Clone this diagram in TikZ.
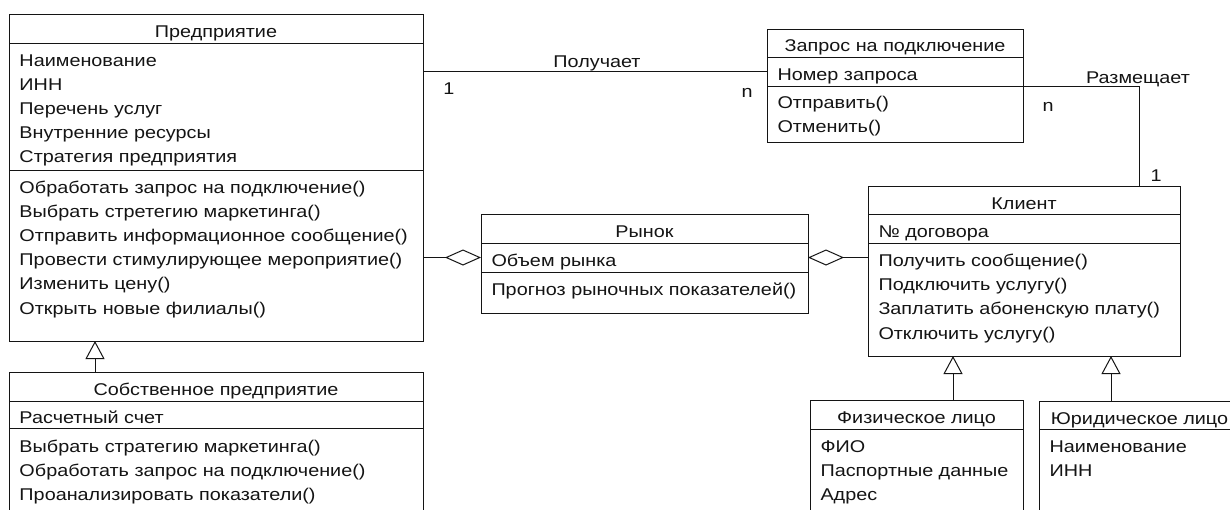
\documentclass[tikz,border=0pt]{standalone}
\usepackage{fontspec}
\setmainfont{Liberation Sans}[FakeStretch=1.165]
\usetikzlibrary{arrows.meta}
\definecolor{ink}{RGB}{20,20,20}
\tikzset{
  comp/.style={draw=ink, line width=1pt, anchor=north west, inner sep=0pt, outer sep=0pt, rectangle},
  txt/.style={anchor=base west, inner sep=0pt, outer sep=0pt, text=ink, font=\fontsize{17}{20}\selectfont},
  ttl/.style={anchor=base, inner sep=0pt, outer sep=0pt, text=ink, font=\fontsize{17}{20}\selectfont},
  conn/.style={draw=ink, line width=1pt},
  agg/.style={conn, {Diamond[open, length=36pt, width=16pt, line width=1pt]}-},
  gen/.style={conn, -{Triangle[open, length=18pt, width=19pt, line width=1pt]}},
}
\begin{document}
\begin{tikzpicture}[x=1pt,y=-1pt]
\useasboundingbox (0,0) rectangle (1230,509);
\clip (0,0) rectangle (1230,509);
\fill[white] (0,0) rectangle (1230,509);

% Предприятие
\node[comp, minimum width=414pt, minimum height=29pt] (predT) at (9,14) {};
\node[comp, minimum width=414pt, minimum height=127pt] (predA) at (9,43) {};
\node[comp, minimum width=414pt, minimum height=171pt] (predM) at (9,170) {};
\node[ttl] (p0) at (216,37) {Предприятие};
\node[txt] (p1) at (19.5,66) {Наименование};
\node[txt] (p2) at (19.5,90.2) {ИНН};
\node[txt] (p3) at (19.5,114.4) {Перечень услуг};
\node[txt] (p4) at (19.5,138.6) {Внутренние ресурсы};
\node[txt] (p5) at (19.5,162.8) {Стратегия предприятия};
\node[txt] (p6) at (19.5,193) {Обработать запрос на подключение()};
\node[txt] (p7) at (19.5,217.2) {Выбрать стретегию маркетинга()};
\node[txt] (p8) at (19.5,241.4) {Отправить информационное сообщение()};
\node[txt] (p9) at (19.5,265.6) {Провести стимулирующее мероприятие()};
\node[txt] (p10) at (19.5,289.8) {Изменить цену()};
\node[txt] (p11) at (19.5,314) {Открыть новые филиалы()};

% Собственное предприятие
\node[comp, minimum width=414pt, minimum height=29pt] (sobT) at (9,372) {};
\node[comp, minimum width=414pt, minimum height=27pt] (sobA) at (9,401) {};
\node[comp, minimum width=414pt, minimum height=100pt] (sobM) at (9,428) {};
\node[ttl] (s0) at (216,395) {Собственное предприятие};
\node[txt] (s1) at (19.5,423) {Расчетный счет};
\node[txt] (s2) at (19.5,452.5) {Выбрать стратегию маркетинга()};
\node[txt] (s3) at (19.5,476.5) {Обработать запрос на подключение()};
\node[txt] (s4) at (19.5,500.5) {Проанализировать показатели()};

% Запрос на подключение
\node[comp, minimum width=256pt, minimum height=28pt] (zapT) at (767,29) {};
\node[comp, minimum width=256pt, minimum height=29pt] (zapA) at (767,57) {};
\node[comp, minimum width=256pt, minimum height=56pt] (zapM) at (767,86) {};
\node[ttl] (z0) at (895,51) {Запрос на подключение};
\node[txt] (z1) at (777.5,80) {Номер запроса};
\node[txt] (z2) at (777.5,108.5) {Отправить()};
\node[txt] (z3) at (777.5,132) {Отменить()};

% Рынок
\node[comp, minimum width=327pt, minimum height=29pt] (rynT) at (481,214) {};
\node[comp, minimum width=327pt, minimum height=29pt] (rynA) at (481,243) {};
\node[comp, minimum width=327pt, minimum height=41pt] (rynM) at (481,272) {};
\node[ttl] (r0) at (644.5,237) {Рынок};
\node[txt] (r1) at (491.5,266) {Объем рынка};
\node[txt] (r2) at (491.5,295) {Прогноз рыночных показателей()};

% Клиент
\node[comp, minimum width=312pt, minimum height=28pt] (klT) at (868,186) {};
\node[comp, minimum width=312pt, minimum height=29pt] (klA) at (868,214) {};
\node[comp, minimum width=312pt, minimum height=113pt] (klM) at (868,243) {};
\node[ttl] (k0) at (1024,209) {Клиент};
\node[txt] (k1) at (878.5,237) {№ договора};
\node[txt] (k2) at (878.5,266.5) {Получить сообщение()};
\node[txt] (k3) at (878.5,290.7) {Подключить услугу()};
\node[txt] (k4) at (878.5,314.9) {Заплатить абоненскую плату()};
\node[txt] (k5) at (878.5,339.1) {Отключить услугу()};

% Физическое лицо
\node[comp, minimum width=213pt, minimum height=29pt] (fizT) at (810,400) {};
\node[comp, minimum width=213pt, minimum height=100pt] (fizA) at (810,429) {};
\node[ttl] (f0) at (916.5,423) {Физическое лицо};
\node[txt] (f1) at (820.5,452) {ФИО};
\node[txt] (f2) at (820.5,476) {Паспортные данные};
\node[txt] (f3) at (820.5,500) {Адрес};

% Юридическое лицо
\node[comp, minimum width=206pt, minimum height=28pt] (yurT) at (1039,401) {};
\node[comp, minimum width=206pt, minimum height=100pt] (yurA) at (1039,429) {};
\node[ttl] (y0) at (1139.5,424) {Юридическое лицо};
\node[txt] (y1) at (1049.5,452) {Наименование};
\node[txt] (y2) at (1049.5,476) {ИНН};

% Connectors
\draw[conn] (predA.east |- zapA.west) -- (zapA.west);
\node[ttl] (lp) at (597,67) {Получает};
\node[ttl] (lp1) at (449,94) {1};
\node[ttl] (lpn) at (747,97) {n};

\coordinate (kz) at ([xshift=271pt]klT.north west);
\draw[conn] (zapA.south east) -| (kz);
\node[ttl] (lr) at (1138,83) {Размещает};
\node[ttl] (lrn) at (1048,111) {n};
\node[ttl] (lr1) at (1156,181) {1};

\draw[agg] (rynA.west) -- (rynA.west -| predM.east);
\draw[agg] (rynA.east) -- (rynA.east -| klM.west);

\draw[gen] ([xshift=86pt]sobT.north west) -- ([xshift=86pt]predM.south west);
\draw[gen] ([xshift=143pt]fizT.north west) -- ([xshift=85pt]klM.south west);
\draw[gen] ([xshift=72pt]yurT.north west) -- ([xshift=243pt]klM.south west);
\end{tikzpicture}
\end{document}
